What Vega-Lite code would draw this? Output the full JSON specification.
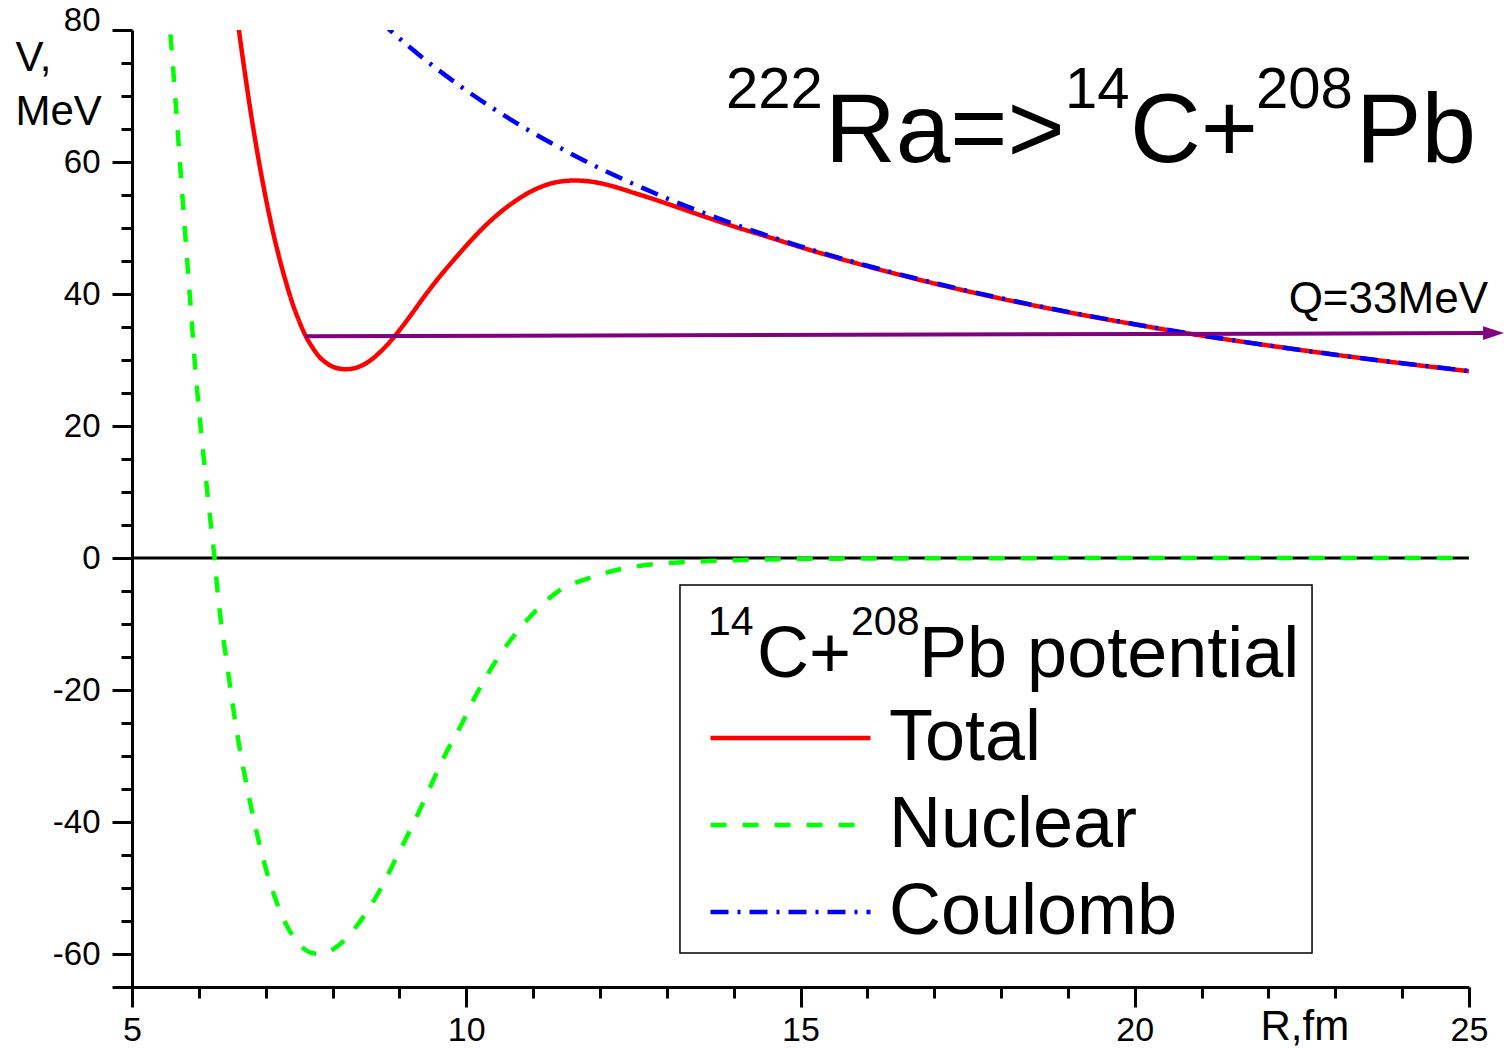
{
  "$schema": "https://vega.github.io/schema/vega-lite/v6.json",
  "width": 1337,
  "height": 957,
  "autosize": {"type": "none"},
  "padding": {"left": 132, "top": 30, "right": 35, "bottom": 61},
  "background": "white",
  "config": {"view": {"stroke": null}, "font": "Liberation Sans"},
  "datasets": {
    "curves": [
      {"R": 6.50, "V": 87.5, "series": "Total"},
      {"R": 6.60, "V": 79.9, "series": "Total"},
      {"R": 6.70, "V": 72.7, "series": "Total"},
      {"R": 6.80, "V": 66.0, "series": "Total"},
      {"R": 6.90, "V": 60.0, "series": "Total"},
      {"R": 7.00, "V": 54.6, "series": "Total"},
      {"R": 7.10, "V": 49.8, "series": "Total"},
      {"R": 7.20, "V": 45.6, "series": "Total"},
      {"R": 7.30, "V": 41.9, "series": "Total"},
      {"R": 7.40, "V": 38.6, "series": "Total"},
      {"R": 7.50, "V": 35.9, "series": "Total"},
      {"R": 7.60, "V": 33.6, "series": "Total"},
      {"R": 7.70, "V": 31.9, "series": "Total"},
      {"R": 7.80, "V": 30.5, "series": "Total"},
      {"R": 7.90, "V": 29.6, "series": "Total"},
      {"R": 8.00, "V": 29.0, "series": "Total"},
      {"R": 8.10, "V": 28.7, "series": "Total"},
      {"R": 8.20, "V": 28.6, "series": "Total"},
      {"R": 8.30, "V": 28.7, "series": "Total"},
      {"R": 8.40, "V": 29.0, "series": "Total"},
      {"R": 8.50, "V": 29.5, "series": "Total"},
      {"R": 8.60, "V": 30.2, "series": "Total"},
      {"R": 8.70, "V": 31.1, "series": "Total"},
      {"R": 8.80, "V": 32.1, "series": "Total"},
      {"R": 9.00, "V": 34.5, "series": "Total"},
      {"R": 9.20, "V": 37.2, "series": "Total"},
      {"R": 9.40, "V": 40.0, "series": "Total"},
      {"R": 9.60, "V": 42.6, "series": "Total"},
      {"R": 9.80, "V": 45.0, "series": "Total"},
      {"R": 10.00, "V": 47.3, "series": "Total"},
      {"R": 10.25, "V": 50.0, "series": "Total"},
      {"R": 10.50, "V": 52.3, "series": "Total"},
      {"R": 10.75, "V": 54.2, "series": "Total"},
      {"R": 11.00, "V": 55.7, "series": "Total"},
      {"R": 11.25, "V": 56.7, "series": "Total"},
      {"R": 11.50, "V": 57.15, "series": "Total"},
      {"R": 11.60, "V": 57.2, "series": "Total"},
      {"R": 11.75, "V": 57.15, "series": "Total"},
      {"R": 12.00, "V": 56.8, "series": "Total"},
      {"R": 12.25, "V": 56.15, "series": "Total"},
      {"R": 12.50, "V": 55.35, "series": "Total"},
      {"R": 12.75, "V": 54.55, "series": "Total"},
      {"R": 13.00, "V": 53.7, "series": "Total"},
      {"R": 13.50, "V": 51.95, "series": "Total"},
      {"R": 14.00, "V": 50.25, "series": "Total"},
      {"R": 14.50, "V": 48.7, "series": "Total"},
      {"R": 15.00, "V": 47.1, "series": "Total"},
      {"R": 16.00, "V": 44.2, "series": "Total"},
      {"R": 17.00, "V": 41.6, "series": "Total"},
      {"R": 18.00, "V": 39.3, "series": "Total"},
      {"R": 19.00, "V": 37.25, "series": "Total"},
      {"R": 20.00, "V": 35.4, "series": "Total"},
      {"R": 21.00, "V": 33.7, "series": "Total"},
      {"R": 22.00, "V": 32.2, "series": "Total"},
      {"R": 23.00, "V": 30.8, "series": "Total"},
      {"R": 24.00, "V": 29.5, "series": "Total"},
      {"R": 25.00, "V": 28.3, "series": "Total"},
      {"R": 8.70, "V": 81.44, "series": "Coulomb"},
      {"R": 9.00, "V": 78.72, "series": "Coulomb"},
      {"R": 9.50, "V": 74.58, "series": "Coulomb"},
      {"R": 10.00, "V": 70.85, "series": "Coulomb"},
      {"R": 10.50, "V": 67.48, "series": "Coulomb"},
      {"R": 11.00, "V": 64.41, "series": "Coulomb"},
      {"R": 11.50, "V": 61.61, "series": "Coulomb"},
      {"R": 12.00, "V": 59.04, "series": "Coulomb"},
      {"R": 12.50, "V": 56.68, "series": "Coulomb"},
      {"R": 13.00, "V": 54.50, "series": "Coulomb"},
      {"R": 13.50, "V": 52.48, "series": "Coulomb"},
      {"R": 14.00, "V": 50.61, "series": "Coulomb"},
      {"R": 15.00, "V": 47.23, "series": "Coulomb"},
      {"R": 16.00, "V": 44.28, "series": "Coulomb"},
      {"R": 17.00, "V": 41.68, "series": "Coulomb"},
      {"R": 18.00, "V": 39.36, "series": "Coulomb"},
      {"R": 19.00, "V": 37.29, "series": "Coulomb"},
      {"R": 20.00, "V": 35.43, "series": "Coulomb"},
      {"R": 21.00, "V": 33.74, "series": "Coulomb"},
      {"R": 22.00, "V": 32.20, "series": "Coulomb"},
      {"R": 23.00, "V": 30.80, "series": "Coulomb"},
      {"R": 24.00, "V": 29.52, "series": "Coulomb"},
      {"R": 25.00, "V": 28.34, "series": "Coulomb"},
      {"R": 5.50, "V": 89.0, "series": "Nuclear"},
      {"R": 5.57, "V": 80.0, "series": "Nuclear"},
      {"R": 5.65, "V": 69.5, "series": "Nuclear"},
      {"R": 5.72, "V": 59.5, "series": "Nuclear"},
      {"R": 5.80, "V": 48.5, "series": "Nuclear"},
      {"R": 5.87, "V": 39.1, "series": "Nuclear"},
      {"R": 5.94, "V": 29.5, "series": "Nuclear"},
      {"R": 6.03, "V": 19.5, "series": "Nuclear"},
      {"R": 6.10, "V": 12.5, "series": "Nuclear"},
      {"R": 6.16, "V": 6.8, "series": "Nuclear"},
      {"R": 6.23, "V": 0.4, "series": "Nuclear"},
      {"R": 6.29, "V": -6.1, "series": "Nuclear"},
      {"R": 6.42, "V": -16.0, "series": "Nuclear"},
      {"R": 6.56, "V": -25.8, "series": "Nuclear"},
      {"R": 6.74, "V": -35.7, "series": "Nuclear"},
      {"R": 6.96, "V": -45.5, "series": "Nuclear"},
      {"R": 7.13, "V": -51.2, "series": "Nuclear"},
      {"R": 7.31, "V": -55.6, "series": "Nuclear"},
      {"R": 7.50, "V": -58.5, "series": "Nuclear"},
      {"R": 7.71, "V": -59.9, "series": "Nuclear"},
      {"R": 7.85, "V": -60.0, "series": "Nuclear"},
      {"R": 7.99, "V": -59.4, "series": "Nuclear"},
      {"R": 8.18, "V": -57.9, "series": "Nuclear"},
      {"R": 8.41, "V": -55.1, "series": "Nuclear"},
      {"R": 8.71, "V": -50.3, "series": "Nuclear"},
      {"R": 8.96, "V": -45.3, "series": "Nuclear"},
      {"R": 9.21, "V": -40.2, "series": "Nuclear"},
      {"R": 9.43, "V": -35.4, "series": "Nuclear"},
      {"R": 9.66, "V": -30.3, "series": "Nuclear"},
      {"R": 9.91, "V": -25.6, "series": "Nuclear"},
      {"R": 10.16, "V": -20.5, "series": "Nuclear"},
      {"R": 10.45, "V": -15.5, "series": "Nuclear"},
      {"R": 10.80, "V": -10.7, "series": "Nuclear"},
      {"R": 11.00, "V": -8.4, "series": "Nuclear"},
      {"R": 11.37, "V": -5.1, "series": "Nuclear"},
      {"R": 11.88, "V": -2.9, "series": "Nuclear"},
      {"R": 12.35, "V": -1.6, "series": "Nuclear"},
      {"R": 12.85, "V": -0.9, "series": "Nuclear"},
      {"R": 13.35, "V": -0.6, "series": "Nuclear"},
      {"R": 13.84, "V": -0.4, "series": "Nuclear"},
      {"R": 14.35, "V": -0.25, "series": "Nuclear"},
      {"R": 14.84, "V": -0.15, "series": "Nuclear"},
      {"R": 16.00, "V": -0.08, "series": "Nuclear"},
      {"R": 18.00, "V": -0.03, "series": "Nuclear"},
      {"R": 20.00, "V": 0, "series": "Nuclear"},
      {"R": 25.00, "V": 0, "series": "Nuclear"}
    ],
    "qline": [
      {"R": 7.59, "V": 33.6},
      {"R": 25.21, "V": 34.08}
    ]
  },
  "layer": [
    {
      "data": {"values": [{}]},
      "mark": {"type": "rect", "fill": "white", "stroke": "black", "strokeWidth": 1.5},
      "encoding": {
        "x": {"datum": 13.197, "type": "quantitative"},
        "x2": {"datum": 22.652},
        "y": {"datum": -4.09, "type": "quantitative"},
        "y2": {"datum": -59.85}
      }
    },
    {
      "data": {"values": [{}]},
      "mark": {"type": "rule", "color": "black", "strokeWidth": 3},
      "encoding": {"y": {"datum": 0, "type": "quantitative"}}
    },
    {
      "data": {"name": "curves"},
      "mark": {"type": "line", "interpolate": "monotone", "clip": true, "strokeWidth": 4.5},
      "encoding": {
        "x": {
          "field": "R", "type": "quantitative",
          "scale": {"domain": [5, 25], "nice": false, "zero": false},
          "axis": {
            "values": [5,6,7,8,9,10,11,12,13,14,15,16,17,18,19,20,21,22,23,24,25],
            "tickCount": 100,
            "labelExpr": "datum.value % 5 === 0 ? '' + datum.value : ''",
            "tickSize": {"condition": {"test": "datum.value % 5 === 0", "value": 20}, "value": 11},
            "tickWidth": 3, "tickColor": "black",
            "domainWidth": 3, "domainColor": "black",
            "grid": false,
            "labelFont": "Liberation Sans", "labelFontSize": 34, "labelColor": "black",
            "labelPadding": 6, "labelFlush": false, "labelOverlap": false, "labelBound": false,
            "title": "R,fm",
            "titleFont": "Liberation Sans", "titleFontSize": 42, "titleFontWeight": "normal", "titleColor": "black",
            "titleAlign": "left", "titleBaseline": "alphabetic", "titleX": 1128, "titleY": 52
          }
        },
        "y": {
          "field": "V", "type": "quantitative",
          "scale": {"domain": [-65, 80], "nice": false, "zero": false},
          "axis": {
            "values": [-65,-60,-55,-50,-45,-40,-35,-30,-25,-20,-15,-10,-5,0,5,10,15,20,25,30,35,40,45,50,55,60,65,70,75,80],
            "tickCount": 100,
            "labelExpr": "datum.value % 20 === 0 ? '' + datum.value : ''",
            "tickSize": {"condition": {"test": "datum.value % 20 === 0 || datum.value === -65", "value": 20}, "value": 11},
            "labelOffset": {"condition": {"test": "datum.value === 80", "value": -10}, "value": 0},
            "tickWidth": 3, "tickColor": "black",
            "domainWidth": 3, "domainColor": "black",
            "grid": false,
            "labelFont": "Liberation Sans", "labelFontSize": 33, "labelColor": "black",
            "labelPadding": 12, "labelOverlap": false, "labelBound": false,
            "title": ["V,", "MeV"],
            "titleFont": "Liberation Sans", "titleFontSize": 42, "titleFontWeight": "normal", "titleColor": "black",
            "titleAngle": 0, "titleAlign": "left", "titleBaseline": "alphabetic",
            "titleX": -117, "titleY": 40, "titleLineHeight": 54
          }
        },
        "color": {
          "field": "series", "type": "nominal",
          "scale": {"domain": ["Total", "Nuclear", "Coulomb"], "range": ["#ff0000", "#00ff00", "#0000ff"]},
          "legend": {
            "orient": "none", "legendX": 576, "legendY": 590,
            "title": "\u00a0",
            "titleFont": "Liberation Sans", "titleFontSize": 72, "titleFontWeight": "normal", "titleColor": "black",
            "titleBaseline": "top", "titlePadding": 9, "titleLimit": 1000,
            "labelFont": "Liberation Sans", "labelFontSize": 72, "labelColor": "black", "labelOffset": 16, "labelLimit": 1000,
            "symbolType": "stroke", "symbolSize": 25600, "symbolStrokeWidth": 4.5,
            "clipHeight": 74, "rowPadding": 13, "padding": 0
          }
        },
        "strokeDash": {
          "field": "series", "type": "nominal",
          "scale": {"domain": ["Total", "Nuclear", "Coulomb"], "range": [[1, 0], [16, 16], [18, 9, 3, 9]]}
        }
      }
    },
    {
      "data": {"name": "qline"},
      "mark": {"type": "line", "color": "#800080", "strokeWidth": 4},
      "encoding": {
        "x": {"field": "R", "type": "quantitative"},
        "y": {"field": "V", "type": "quantitative"}
      }
    },
    {
      "data": {"values": [{}]},
      "mark": {"type": "point", "shape": "M-1,-0.65L1,0L-1,0.65Z", "filled": true, "color": "#800080", "opacity": 1, "size": 441},
      "encoding": {
        "x": {"datum": 25.367, "type": "quantitative"},
        "y": {"datum": 34.08, "type": "quantitative"}
      }
    },
    {
      "data": {"values": [{}]},
      "mark": {"type": "text", "align": "right", "baseline": "alphabetic", "fontSize": 44, "font": "Liberation Sans", "color": "black"},
      "encoding": {
        "x": {"datum": 25.284, "type": "quantitative"},
        "y": {"datum": 37.1, "type": "quantitative"},
        "text": {"value": "Q=33MeV"}
      }
    },
    {
      "data": {"values": [{}]},
      "mark": {"type": "text", "align": "left", "baseline": "alphabetic", "fontSize": 58, "font": "Liberation Sans", "color": "black"},
      "encoding": {"x": {"datum": 13.886, "type": "quantitative"}, "y": {"datum": 68.18, "type": "quantitative"}, "text": {"value": "222"}}
    },
    {
      "data": {"values": [{}]},
      "mark": {"type": "text", "align": "left", "baseline": "alphabetic", "fontSize": 98, "font": "Liberation Sans", "color": "black"},
      "encoding": {"x": {"datum": 15.367, "type": "quantitative"}, "y": {"datum": 60.0, "type": "quantitative"}, "text": {"value": "Ra=>"}}
    },
    {
      "data": {"values": [{}]},
      "mark": {"type": "text", "align": "left", "baseline": "alphabetic", "fontSize": 58, "font": "Liberation Sans", "color": "black"},
      "encoding": {"x": {"datum": 18.957, "type": "quantitative"}, "y": {"datum": 68.18, "type": "quantitative"}, "text": {"value": "14"}}
    },
    {
      "data": {"values": [{}]},
      "mark": {"type": "text", "align": "left", "baseline": "alphabetic", "fontSize": 98, "font": "Liberation Sans", "color": "black"},
      "encoding": {"x": {"datum": 19.929, "type": "quantitative"}, "y": {"datum": 60.0, "type": "quantitative"}, "text": {"value": "C+"}}
    },
    {
      "data": {"values": [{}]},
      "mark": {"type": "text", "align": "left", "baseline": "alphabetic", "fontSize": 58, "font": "Liberation Sans", "color": "black"},
      "encoding": {"x": {"datum": 21.814, "type": "quantitative"}, "y": {"datum": 68.18, "type": "quantitative"}, "text": {"value": "208"}}
    },
    {
      "data": {"values": [{}]},
      "mark": {"type": "text", "align": "left", "baseline": "alphabetic", "fontSize": 98, "font": "Liberation Sans", "color": "black"},
      "encoding": {"x": {"datum": 23.310, "type": "quantitative"}, "y": {"datum": 60.0, "type": "quantitative"}, "text": {"value": "Pb"}}
    },
    {
      "data": {"values": [{}]},
      "mark": {"type": "text", "align": "left", "baseline": "alphabetic", "fontSize": 41, "font": "Liberation Sans", "color": "black"},
      "encoding": {"x": {"datum": 13.616, "type": "quantitative"}, "y": {"datum": -11.67, "type": "quantitative"}, "text": {"value": "14"}}
    },
    {
      "data": {"values": [{}]},
      "mark": {"type": "text", "align": "left", "baseline": "alphabetic", "fontSize": 72, "font": "Liberation Sans", "color": "black"},
      "encoding": {"x": {"datum": 14.349, "type": "quantitative"}, "y": {"datum": -18.03, "type": "quantitative"}, "text": {"value": "C+"}}
    },
    {
      "data": {"values": [{}]},
      "mark": {"type": "text", "align": "left", "baseline": "alphabetic", "fontSize": 41, "font": "Liberation Sans", "color": "black"},
      "encoding": {"x": {"datum": 15.756, "type": "quantitative"}, "y": {"datum": -11.67, "type": "quantitative"}, "text": {"value": "208"}}
    },
    {
      "data": {"values": [{}]},
      "mark": {"type": "text", "align": "left", "baseline": "alphabetic", "fontSize": 72, "font": "Liberation Sans", "color": "black"},
      "encoding": {"x": {"datum": 16.773, "type": "quantitative"}, "y": {"datum": -18.03, "type": "quantitative"}, "text": {"value": "Pb potential"}}
    }
  ]
}
